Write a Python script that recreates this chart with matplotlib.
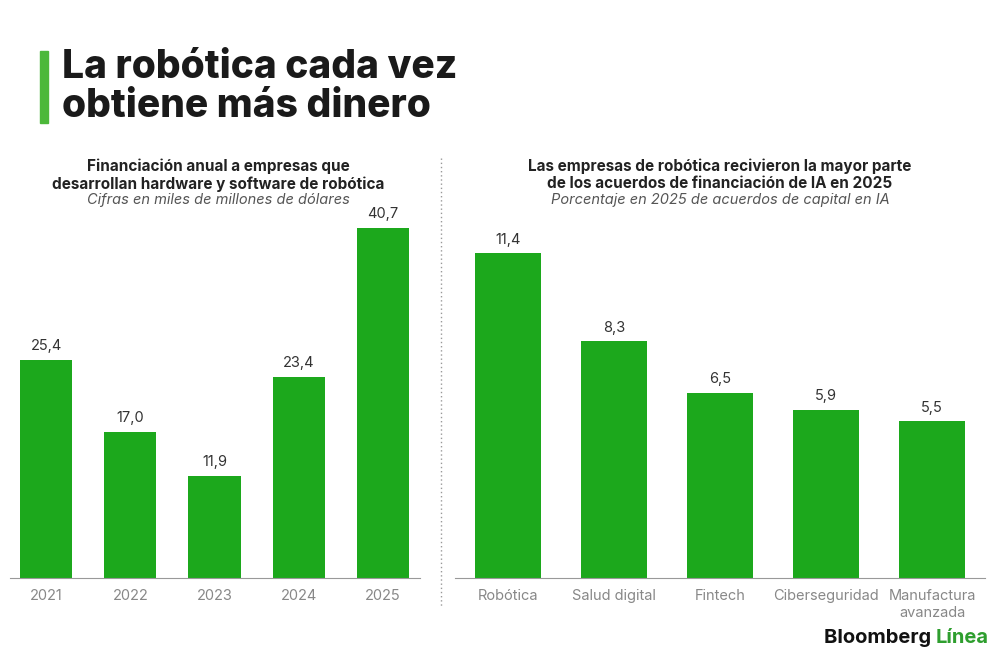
import matplotlib.pyplot as plt

years = ["2021", "2022", "2023", "2024", "2025"]
funding = [25.4, 17.0, 11.9, 23.4, 40.7]
sectors = ["Robótica", "Salud digital", "Fintech", "Ciberseguridad", "Manufactura\navanzada"]
shares = [11.4, 8.3, 6.5, 5.9, 5.5]

GREEN = "#1ca81c"
plt.rcParams["font.family"] = ["Inter", "DejaVu Sans"]

fig = plt.figure(figsize=(10, 6.51), dpi=100)
W, H = 1000, 651

def px_axes(x0, y_top, x1, y_bot):
    return fig.add_axes([x0 / W, 1 - y_bot / H, (x1 - x0) / W, (y_bot - y_top) / H])

def bars(ax, labels, vals, xlim):
    x = range(len(vals))
    ax.bar(x, vals, width=0.62, color=GREEN)
    for i, v in zip(x, vals):
        ax.text(i, v + max(vals) * 0.02, f"{v:.1f}".replace(".", ","), ha="center",
                va="bottom", fontsize=10.5, color="#333333")
    ax.set_xlim(*xlim)
    ax.set_ylim(0, max(vals))
    ax.set_xticks(list(x))
    ax.set_xticklabels(labels, fontsize=10.5, color="#888888", linespacing=1.25)
    ax.tick_params(axis="x", length=0, pad=8)
    ax.set_yticks([])
    for s in ["top", "right", "left"]:
        ax.spines[s].set_visible(False)
    ax.spines["bottom"].set_color("#999999")

ax1 = px_axes(10, 228, 420, 578)
bars(ax1, years, funding, (-0.43, 4.44))
ax2 = px_axes(455, 253, 985, 578)
bars(ax2, sectors, shares, (-0.5, 4.5))

# title block
fig.patches.append(plt.Rectangle((40 / W, 1 - 123 / H), 8 / W, 72 / H,
                                 transform=fig.transFigure, color="#4cb83a"))
fig.text(62 / W, 1 - 49 / H, "La robótica cada vez\nobtiene más dinero", fontsize=28,
         fontweight="heavy", color="#1a1a1a", va="top", linespacing=1.08)

fig.text(218 / W, 1 - 158 / H, "Financiación anual a empresas que\ndesarrollan hardware y software de robótica",
         ha="center", va="top", fontsize=11, fontweight="bold", color="#222222", linespacing=1.2)
fig.text(218 / W, 1 - 193 / H, "Cifras en miles de millones de dólares", ha="center", va="top",
         fontsize=10.5, style="italic", color="#555555")
fig.text(720 / W, 1 - 158 / H, "Las empresas de robótica recivieron la mayor parte\nde los acuerdos de financiación de IA en 2025",
         ha="center", va="top", fontsize=11, fontweight="bold", color="#222222", linespacing=1.2)
fig.text(720 / W, 1 - 193 / H, "Porcentaje en 2025 de acuerdos de capital en IA", ha="center", va="top",
         fontsize=10.5, style="italic", color="#555555")

fig.add_artist(plt.Line2D([441 / W, 441 / W], [1 - 158 / H, 1 - 608 / H], transform=fig.transFigure,
                          color="#999999", linestyle=(0, (1, 2)), linewidth=1))

fig.text(936 / W, 1 - 638 / H, "Bloomberg ", ha="right", va="center", fontsize=14.5,
         fontweight="bold", color="#111111")
fig.text(936 / W, 1 - 638 / H, "Línea", ha="left", va="center", fontsize=14.5,
         fontweight="bold", color="#2e9e2e")

fig.savefig("out.png", dpi=100, facecolor="white")
